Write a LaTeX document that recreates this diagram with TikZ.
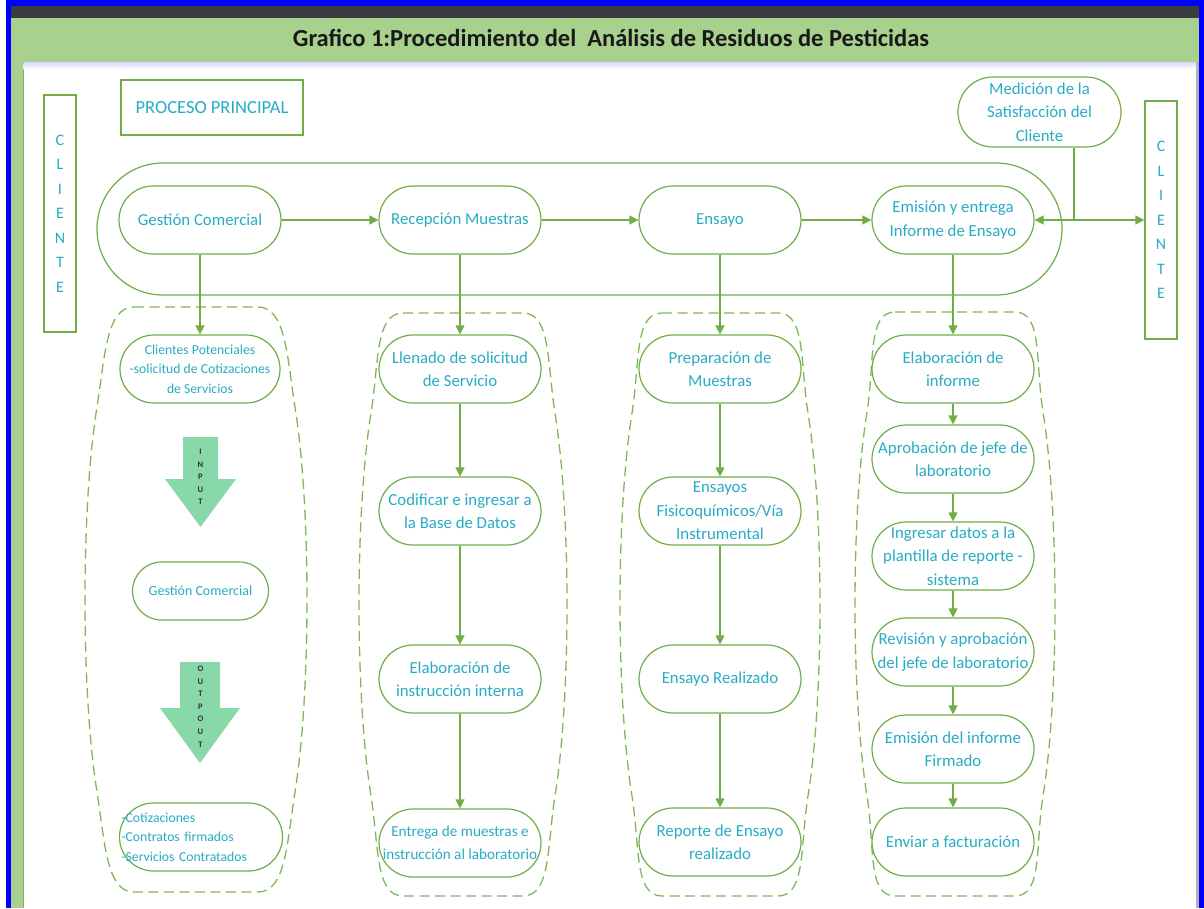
\documentclass[tikz,border=0pt]{standalone}
\usepackage{fontspec}
\setmainfont{Carlito}
\usetikzlibrary{arrows.meta,calc}
\newcommand\fs[2]{\fontsize{#1}{#2}\selectfont}
\definecolor{gline}{RGB}{112,173,71}
\definecolor{dgreen}{RGB}{125,185,90}
\definecolor{tealc}{RGB}{40,172,196}
\definecolor{mint}{RGB}{136,216,170}
\definecolor{titlegreen}{RGB}{169,209,142}
\definecolor{darkstrip}{RGB}{58,61,64}
\definecolor{framblue}{RGB}{0,0,255}
\tikzset{
  proc/.style={draw=gline, line width=1.2pt, rounded corners=34pt, minimum width=162pt,
    minimum height=68pt, inner sep=0pt, align=center, text=tealc, font=\fs{16.8}{23.5}},
  small/.style={font=\fs{13.7}{19.5}},
  arr/.style={draw=gline, line width=1.2pt, -{Triangle[length=9pt,width=9pt]}},
  cont/.style={draw=dgreen, line width=1.3pt, dash pattern=on 10pt off 5.5pt},
  vlet/.style={draw=gline, line width=1.2pt, align=center, text=tealc, font=\fs{16}{24.5}, inner sep=0pt},
  arrlet/.style={align=center, text={rgb,255:red,50;green,50;blue,50}, font=\fs{8.5}{12.6}\bfseries, inner sep=0pt},
}
\newcommand\dashcont[5]{% cx w0 W T B
 \draw[cont] ({#1-#2},#4) -- ({#1+#2},#4)
   .. controls ({#1+#2+28},#4) and ({#1+#3-20},{#4+50}) .. ({#1+#3-12},{#4+100})
   .. controls ({#1+#3+4},{#4+200}) and ({#1+#3+4},{#5-200}) .. ({#1+#3-12},{#5-100})
   .. controls ({#1+#3-20},{#5-50}) and ({#1+#2+28},#5) .. ({#1+#2},#5)
   -- ({#1-#2},#5)
   .. controls ({#1-#2-28},#5) and ({#1-#3+20},{#5-50}) .. ({#1-#3+12},{#5-100})
   .. controls ({#1-#3-4},{#5-200}) and ({#1-#3-4},{#4+200}) .. ({#1-#3+12},{#4+100})
   .. controls ({#1-#3+20},{#4+50}) and ({#1-#2-28},#4) .. cycle;
}
\begin{document}
\begin{tikzpicture}[x=1pt,y=-1pt]
\useasboundingbox (0,0) rectangle (1204,908);
\fill[white] (0,0) rectangle (1204,908);
% frame
\fill[framblue] (6,0) rectangle (1204,6);
\fill[framblue] (6,0) rectangle (11,908);
\fill[framblue] (1199,0) rectangle (1204,908);
\fill[gray!60] (1196,18) rectangle (1199,908);
\fill[darkstrip] (11,6) rectangle (1199,18);
\fill[titlegreen] (11,18) rectangle (1199,62);
\fill[titlegreen] (11,18) rectangle (23,908);
\draw[titlegreen!70!black, line width=0.8pt] (23,62) -- (1196,62);
\draw[titlegreen!80!black, line width=0.8pt] (23,62) -- (23,908);
\shade[top color=blue!15, bottom color=white] (23.5,62.5) rectangle (1196,69);
\node[font=\fs{24.5}{28}\bfseries, text={rgb,255:red,25;green,25;blue,25}] (title) at (611,38)
  {Grafico 1:Procedimiento del \ Análisis de Residuos de Pesticidas};

% side boxes
\node[vlet, minimum width=32pt, minimum height=237pt] (cl) at (60,213.5) {C\\L\\I\\E\\N\\T\\E};
\node[vlet, minimum width=32pt, minimum height=238pt] (cr) at (1161,220) {C\\L\\I\\E\\N\\T\\E};
\node[draw=gline, line width=1.2pt, minimum width=182pt, minimum height=55pt, text=tealc,
  font=\fs{18.5}{22}, inner sep=0pt] (pp) at (212,107.5) {PROCESO PRINCIPAL};

% main container
\node[draw=gline, line width=1.2pt, rounded corners=66pt, minimum width=965pt,
  minimum height=132pt, inner sep=0pt] (mainbox) at (579.5,229) {};

% main process
\node[proc] (gc) at (200,220) {Gestión Comercial};
\node[proc] (rm) at (460,220) {Recepción Muestras};
\node[proc] (en) at (720,220) {Ensayo};
\node[proc] (em) at (953,220) {Emisión y entrega\\Informe de Ensayo};
\node[proc, minimum width=163pt, minimum height=70pt, rounded corners=35pt] (med) at (1039.5,112)
  {Medición de la\\Satisfacción del\\Cliente};
\draw[arr] (gc) -- (rm);
\draw[arr] (rm) -- (en);
\draw[arr] (en) -- (em);
\coordinate (mj) at (1074,220);
\draw[draw=gline, line width=1.2pt] (med.south -| mj) -- (mj);
\draw[draw=gline, line width=1.2pt, {Triangle[length=9pt,width=9pt]}-{Triangle[length=9pt,width=9pt]}] (em) -- (cr);

% dashed containers
\dashcont{196}{62}{111}{307}{892}
\dashcont{463}{60}{104}{313}{896}
\dashcont{720}{58}{100}{313}{896}
\dashcont{955}{60}{100}{312}{896}

% column 1
\node[proc, small, minimum width=160pt] (cp) at (200,369)
  {Clientes Potenciales\\-solicitud de Cotizaciones\\de Servicios};
\fill[mint] (183,437) -- (218,437) -- (218,479) -- (236,479) -- (200.5,527) -- (165,479) -- (183,479) -- cycle;
\node[arrlet] (inl) at (200.5,477) {I\\N\\P\\U\\T};
\node[proc, font=\fs{14}{19}, minimum width=136pt, minimum height=58pt, rounded corners=29pt] (gcs) at (200.5,591)
  {Gestión Comercial};
\fill[mint] (180,662) -- (220,662) -- (220,708) -- (240,708) -- (200,763) -- (160,708) -- (180,708) -- cycle;
\node[arrlet] (outl) at (200.5,706.5) {O\\U\\T\\P\\O\\U\\T};
\node[proc, small, minimum width=163pt, text width=159pt, inner xsep=2pt, align=left] (cot) at (201,837)
  {-Cotizaciones\\-Contratos firmados\\-Servicios Contratados};
\draw[arr] (gc) -- (cp);

% column 2
\node[proc] (ls) at (460,369) {Llenado de solicitud\\de Servicio};
\node[proc] (cod) at (460,511) {Codificar e ingresar a\\la Base de Datos};
\node[proc] (ela) at (460,679) {Elaboración de\\instrucción interna};
\node[proc, font=\fs{15.2}{23}] (ent) at (460,843) {Entrega de muestras e\\instrucción al laboratorio};
\draw[arr] (rm) -- (ls);
\draw[arr] (ls) -- (cod);
\draw[arr] (cod) -- (ela);
\draw[arr] (ela) -- (ent);

% column 3
\node[proc] (pm) at (720,369) {Preparación de\\Muestras};
\node[proc] (ef) at (720,511) {Ensayos\\Fisicoquímicos/Vía\\Instrumental};
\node[proc] (er) at (720,679) {Ensayo Realizado};
\node[proc] (rep) at (720,842) {Reporte de Ensayo\\realizado};
\draw[arr] (en) -- (pm);
\draw[arr] (pm) -- (ef);
\draw[arr] (ef) -- (er);
\draw[arr] (er) -- (rep);

% column 4
\node[proc] (ei) at (953,369) {Elaboración de\\informe};
\node[proc] (ap) at (953,459) {Aprobación de jefe de\\laboratorio};
\node[proc] (ing) at (953,556) {Ingresar datos a la\\plantilla de reporte -\\sistema};
\node[proc] (rev) at (953,652) {Revisión y aprobación\\del jefe de laboratorio};
\node[proc] (emf) at (953,749) {Emisión del informe\\Firmado};
\node[proc] (env) at (953,842) {Enviar a facturación};
\draw[arr] (em) -- (ei);
\draw[arr] (ei) -- (ap);
\draw[arr] (ap) -- (ing);
\draw[arr] (ing) -- (rev);
\draw[arr] (rev) -- (emf);
\draw[arr] (emf) -- (env);
\end{tikzpicture}
\end{document}
